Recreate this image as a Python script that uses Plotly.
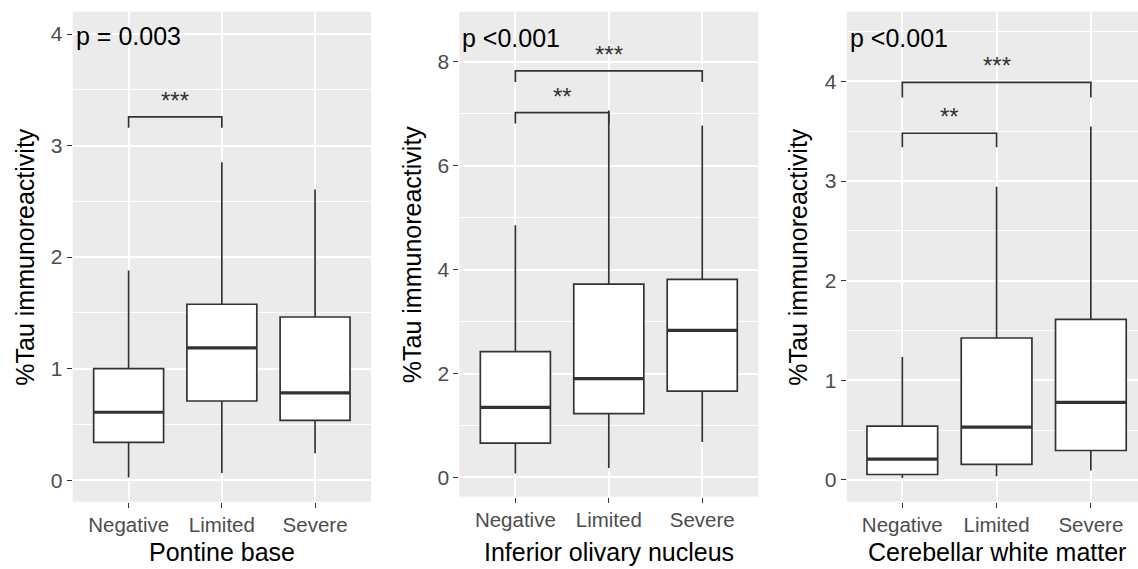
import plotly.graph_objects as go

W, H = 1138, 569

categories = ["Negative", "Limited", "Severe"]
region_titles = ["Pontine base", "Inferior olivary nucleus", "Cerebellar white matter"]
p_labels = ["p = 0.003", "p <0.001", "p <0.001"]

# box statistics per region (Negative, Limited, Severe)
pons_low = [0.023, 0.065, 0.241]
pons_q1 = [0.339, 0.710, 0.537]
pons_med = [0.609, 1.186, 0.782]
pons_q3 = [1.000, 1.577, 1.463]
pons_high = [1.880, 2.850, 2.606]

ion_low = [0.077, 0.18, 0.68]
ion_q1 = [0.66, 1.23, 1.66]
ion_med = [1.35, 1.90, 2.83]
ion_q3 = [2.42, 3.72, 3.81]
ion_high = [4.85, 7.06, 6.77]

cwm_low = [0.020, 0.037, 0.095]
cwm_q1 = [0.055, 0.157, 0.296]
cwm_med = [0.210, 0.530, 0.778]
cwm_q3 = [0.540, 1.425, 1.611]
cwm_high = [1.235, 2.944, 3.547]

# significance brackets: (from index, to index, bar height, tip height, label)
pons_brackets = [(0, 1, 3.257, 3.16, "***")]
ion_brackets = [(0, 1, 7.02, 6.81, "**"), (0, 2, 7.82, 7.61, "***")]
cwm_brackets = [(0, 1, 3.48, 3.34, "**"), (0, 2, 3.99, 3.84, "***")]

# p-value label heights (data units)
p_label_y = [3.98, 8.46, 4.44]

panels = [
    dict(low=pons_low, q1=pons_q1, med=pons_med, q3=pons_q3, high=pons_high,
         brackets=pons_brackets, yrange=[-0.193, 4.20], dtick=1, minor=0.5,
         xpx=(72.7, 371.0), ypx=(11.7, 501.7), xrange=[-0.6, 2.6], ytitle_x=25),
    dict(low=ion_low, q1=ion_q1, med=ion_med, q3=ion_q3, high=ion_high,
         brackets=ion_brackets, yrange=[-0.37, 8.96], dtick=2, minor=1,
         xpx=(459.3, 758.3), ypx=(11.7, 496.7), xrange=[-0.6, 2.6], ytitle_x=412),
    dict(low=cwm_low, q1=cwm_q1, med=cwm_med, q3=cwm_q3, high=cwm_high,
         brackets=cwm_brackets, yrange=[-0.218, 4.70], dtick=1, minor=0.5,
         xpx=(846.7, 1138.0), ypx=(11.7, 501.7), xrange=[-0.59, 2.5], ytitle_x=798),
]

LINE = "#333333"
TICK = "#4D4D4D"
FONT = "Liberation Sans, Arial, sans-serif"
BOXW = 0.75

fig = go.Figure()
annotations = []
layout = dict(width=W, height=H, margin=dict(l=0, r=0, t=0, b=0),
              paper_bgcolor="white", plot_bgcolor="#EBEBEB", showlegend=False,
              font=dict(family=FONT, color=TICK))

for k, p in enumerate(panels):
    n = "" if k == 0 else str(k + 1)
    xa, ya = "x" + n, "y" + n
    xd = [p["xpx"][0] / W, p["xpx"][1] / W]
    yd = [1 - p["ypx"][1] / H, 1 - p["ypx"][0] / H]
    for i, c in enumerate(categories):
        fig.add_trace(go.Box(
            x=[i], q1=[p["q1"][i]], median=[p["med"][i]], q3=[p["q3"][i]],
            lowerfence=[p["low"][i]], upperfence=[p["high"][i]],
            width=BOXW, whiskerwidth=0, fillcolor="white",
            line=dict(color=LINE, width=1.7), boxpoints=False,
            xaxis=xa, yaxis=ya, hoverinfo="skip"))
        fig.add_trace(go.Scatter(
            x=[i - BOXW / 2, i + BOXW / 2], y=[p["med"][i], p["med"][i]],
            mode="lines", line=dict(color=LINE, width=3.2),
            xaxis=xa, yaxis=ya, hoverinfo="skip"))
    for (a, b, top, tip, lab) in p["brackets"]:
        fig.add_trace(go.Scatter(
            x=[a, a, b, b], y=[tip, top, top, tip], mode="lines",
            line=dict(color=LINE, width=1.7), xaxis=xa, yaxis=ya, hoverinfo="skip"))
        annotations.append(dict(x=(a + b) / 2, y=top, xref=xa, yref=ya, text=lab,
                                showarrow=False, yanchor="bottom", yshift=1,
                                font=dict(size=24, color=LINE, family=FONT)))
    annotations.append(dict(x=0.004, y=p_label_y[k], xref=xa + " domain", yref=ya,
                            text=p_labels[k], showarrow=False, xanchor="left",
                            yanchor="middle", font=dict(size=25, color="black", family=FONT)))
    # axis titles
    annotations.append(dict(x=p["ytitle_x"] / W, y=(yd[0] + yd[1]) / 2, xref="paper",
                            yref="paper", text="%Tau immunoreactivity", textangle=-90,
                            showarrow=False, xanchor="center", yanchor="middle",
                            font=dict(size=25, color="black", family=FONT)))
    annotations.append(dict(x=1, y=1 - 552 / H, xref=xa, yref="paper",
                            text=region_titles[k], showarrow=False, xanchor="center",
                            yanchor="middle", font=dict(size=25, color="black", family=FONT)))
    layout["xaxis" + n] = dict(
        domain=xd, range=p["xrange"], tickvals=[0, 1, 2], ticktext=categories,
        showgrid=True, gridcolor="white", gridwidth=1.6, zeroline=False,
        ticks="outside", ticklen=5, tickcolor=LINE, tickwidth=1.3,
        tickfont=dict(size=20.5, color=TICK, family=FONT), anchor=ya,
        fixedrange=True, showline=False)
    layout["yaxis" + n] = dict(
        domain=yd, range=p["yrange"], dtick=p["dtick"], tick0=0,
        showgrid=True, gridcolor="white", gridwidth=1.6, zeroline=False,
        minor=dict(dtick=p["minor"], tick0=0, showgrid=True, gridcolor="white", gridwidth=0.8),
        ticks="outside", ticklen=5, tickcolor=LINE, tickwidth=1.3,
        tickfont=dict(size=21, color=TICK, family=FONT), anchor=xa,
        fixedrange=True, showline=False)

layout["annotations"] = annotations
fig.update_layout(**layout)
fig.write_html("out.html", config={"displayModeBar": False},
               post_script="document.body.style.margin='0';document.body.style.overflow='hidden';")
